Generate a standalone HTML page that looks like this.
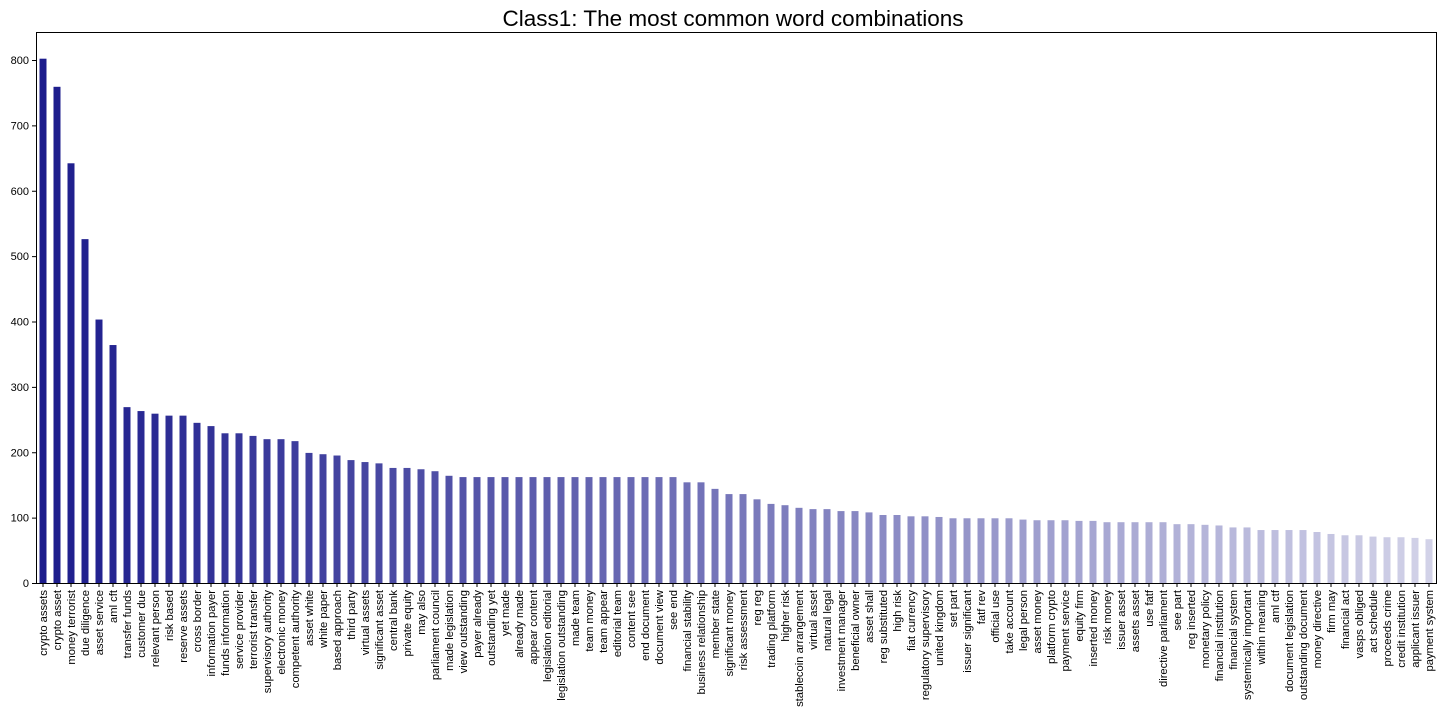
<!DOCTYPE html>
<html><head><meta charset="utf-8"><style>
body{margin:0;background:#fff;font-family:"Liberation Sans","DejaVu Sans",sans-serif;}
svg text{font-family:"Liberation Sans","DejaVu Sans",sans-serif;}
</style></head><body>
<svg id="chart" width="1440" height="720" xmlns="http://www.w3.org/2000/svg">
<rect width="1440" height="720" fill="#fff"/>
<text x="733" y="26" font-size="22.5" text-anchor="middle" fill="#000">Class1: The most common word combinations</text>
<g id="bars"></g>
<g id="yaxis"></g>
<g id="xaxis"></g>
<rect x="36.5" y="32.5" width="1400" height="551" fill="none" stroke="#000" stroke-width="1"/>
</svg>
<script>
const categories = ["crypto assets","crypto asset","money terrorist","due diligence","asset service","aml cft","transfer funds","customer due","relevant person","risk based","reserve assets","cross border","information payer","funds information","service provider","terrorist transfer","supervisory authority","electronic money","competent authority","asset white","white paper","based approach","third party","virtual assets","significant asset","central bank","private equity","may also","parliament council","made legislation","view outstanding","payer already","outstanding yet","yet made","already made","appear content","legislation editorial","legislation outstanding","made team","team money","team appear","editorial team","content see","end document","document view","see end","financial stability","business relationship","member state","significant money","risk assessment","reg reg","trading platform","higher risk","stablecoin arrangement","virtual asset","natural legal","investment manager","beneficial owner","asset shall","reg substituted","high risk","fiat currency","regulatory supervisory","united kingdom","set part","issuer significant","fatf rev","official use","take account","legal person","asset money","platform crypto","payment service","equity firm","inserted money","risk money","issuer asset","assets asset","use fatf","directive parliament","see part","reg inserted","monetary policy","financial institution","financial system","systemically important","within meaning","aml ctf","document legislation","outstanding document","money directive","firm may","financial act","vasps obliged","act schedule","proceeds crime","credit institution","applicant issuer","payment system"];
const counts = [802,759,642,526,403,364,269,263,259,256,256,245,240,229,229,225,220,220,217,199,197,195,188,185,183,176,176,174,171,164,162,162,162,162,162,162,162,162,162,162,162,162,162,162,162,162,154,154,144,136,136,128,121,119,115,113,113,110,110,108,104,104,102,102,101,99,99,99,99,99,97,96,96,96,95,95,93,93,93,93,93,90,90,89,88,85,85,81,81,81,81,78,75,73,73,71,70,70,69,67];
const yTicks = [0,100,200,300,400,500,600,700,800];

const NS="http://www.w3.org/2000/svg";
const plotLeft=36, plotRight=1436, plotBottom=583;
const slot=(plotRight-plotLeft)/categories.length;
const xScale=i=>plotLeft+slot*(i+0.5);
const yScale=v=>plotBottom-v*(523/800);
const barsG=document.getElementById('bars');
const yaG=document.getElementById('yaxis');
const xaG=document.getElementById('xaxis');
const c0=[28,28,140], c1=[210,210,232];
categories.forEach((c,i)=>{
  const t=i/(categories.length-1);
  const col=c0.map((a,k)=>Math.round(a+(c1[k]-a)*t));
  const r=document.createElementNS(NS,'rect');
  
  
  const w=slot*0.5;
  r.setAttribute('x',xScale(i)-w/2);
  r.setAttribute('y',yScale(counts[i]));
  r.setAttribute('width',w);
  r.setAttribute('height',plotBottom-yScale(counts[i]));
  r.setAttribute('fill',`rgb(${col.join(',')})`);
  barsG.appendChild(r);
  const tk=document.createElementNS(NS,'line');
  
  
  tk.setAttribute('x1',xScale(i));tk.setAttribute('x2',xScale(i));
  tk.setAttribute('y1',plotBottom);tk.setAttribute('y2',plotBottom+4);
  tk.setAttribute('stroke','#000');
  xaG.appendChild(tk);
  const tx=document.createElementNS(NS,'text');
  
  
  const x=xScale(i)+4, y=plotBottom+7;
  tx.setAttribute('transform',`translate(${x},${y}) rotate(-90)`);
  tx.setAttribute('text-anchor','end');
  tx.setAttribute('font-size','11.2');
  tx.textContent=c;
  xaG.appendChild(tx);
});
yTicks.forEach(v=>{
  const tk=document.createElementNS(NS,'line');
  
  
  tk.setAttribute('x1',plotLeft-4);tk.setAttribute('x2',plotLeft);
  tk.setAttribute('y1',yScale(v)+0.5);tk.setAttribute('y2',yScale(v)+0.5);
  tk.setAttribute('stroke','#000');
  yaG.appendChild(tk);
  const tx=document.createElementNS(NS,'text');
  
  
  tx.setAttribute('x',plotLeft-7);
  tx.setAttribute('y',yScale(v)+4);
  tx.setAttribute('text-anchor','end');
  tx.setAttribute('font-size','11');
  tx.textContent=v;
  yaG.appendChild(tx);
});
</script>
</body></html>
